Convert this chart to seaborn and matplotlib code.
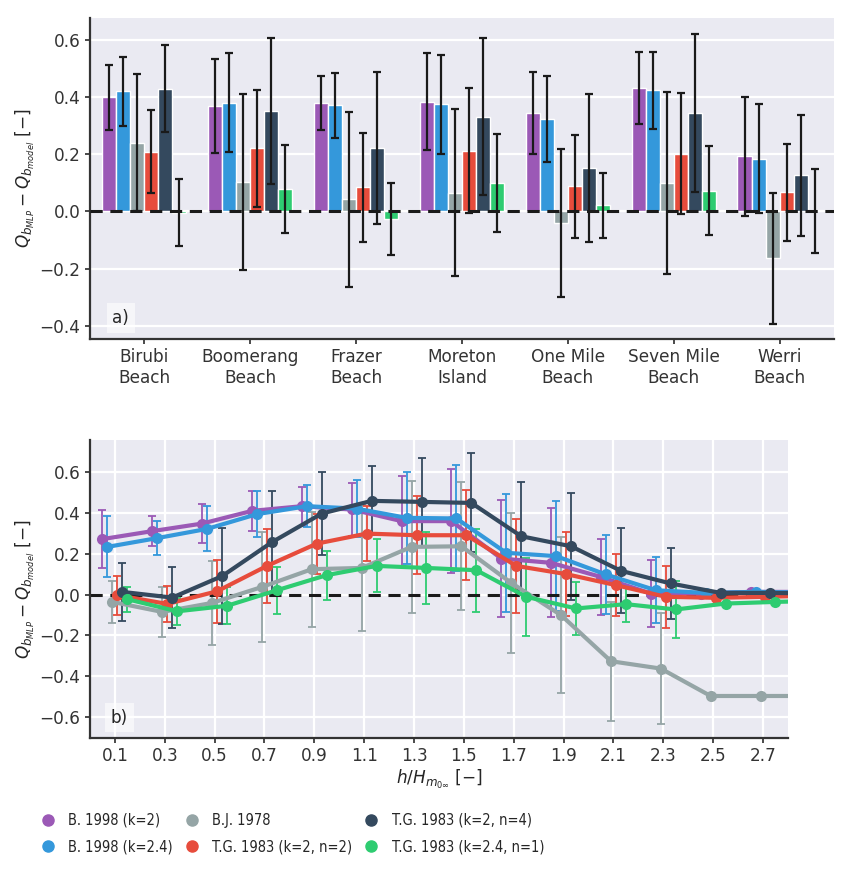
import numpy as np
import pandas as pd
import matplotlib
matplotlib.use('Agg')
import matplotlib.pyplot as plt
from matplotlib.lines import Line2D
import seaborn as sns

# models / colours (flat ui palette)
models = ['B. 1998 (k=2)', 'B. 1998 (k=2.4)', 'B.J. 1978',
          'T.G. 1983 (k=2, n=2)', 'T.G. 1983 (k=2, n=4)', 'T.G. 1983 (k=2.4, n=1)']
colors = ['#9b59b6', '#3498db', '#95a5a6', '#e74c3c', '#34495e', '#2ecc71']

# panel a) mean bias and spread per beach
beaches = ['Birubi\nBeach', 'Boomerang\nBeach', 'Frazer\nBeach', 'Moreton\nIsland',
           'One Mile\nBeach', 'Seven Mile\nBeach', 'Werri\nBeach']
beach_b98_k2 = [0.398, 0.367, 0.377, 0.383, 0.344, 0.431, 0.192]
beach_b98_k24 = [0.419, 0.380, 0.370, 0.374, 0.323, 0.423, 0.184]
beach_bj78 = [0.240, 0.103, 0.043, 0.066, -0.040, 0.098, -0.164]
beach_tg_k2_n2 = [0.208, 0.221, 0.085, 0.212, 0.088, 0.202, 0.067]
beach_tg_k2_n4 = [0.428, 0.351, 0.220, 0.331, 0.153, 0.344, 0.126]
beach_tg_k24_n1 = [-0.005, 0.078, -0.027, 0.099, 0.021, 0.073, 0.002]

beach_err_b98_k2 = [0.113, 0.164, 0.094, 0.169, 0.143, 0.125, 0.207]
beach_err_b98_k24 = [0.121, 0.172, 0.113, 0.172, 0.150, 0.134, 0.190]
beach_err_bj78 = [0.240, 0.307, 0.305, 0.290, 0.257, 0.318, 0.229]
beach_err_tg_k2_n2 = [0.145, 0.204, 0.190, 0.218, 0.180, 0.210, 0.169]
beach_err_tg_k2_n4 = [0.152, 0.254, 0.265, 0.275, 0.258, 0.275, 0.210]
beach_err_tg_k24_n1 = [0.117, 0.154, 0.125, 0.171, 0.114, 0.155, 0.147]

# panel b) bias binned by relative depth
depth_bins = [0.1, 0.3, 0.5, 0.7, 0.9, 1.1, 1.3, 1.5, 1.7, 1.9, 2.1, 2.3, 2.5, 2.7, 2.9]
depth_b98_k2 = [0.271, 0.310, 0.347, 0.409, 0.432, 0.416, 0.359, 0.359, 0.176, 0.155, 0.086, 0.005, 0.005, 0.013, 0.013]
depth_b98_k24 = [0.233, 0.276, 0.321, 0.393, 0.432, 0.420, 0.375, 0.372, 0.204, 0.188, 0.098, 0.021, 0.008, 0.013, 0.010]
depth_bj78 = [-0.036, -0.085, -0.041, 0.037, 0.124, 0.130, 0.233, 0.236, 0.057, -0.101, -0.326, -0.362, -0.496, -0.496, -0.496]
depth_tg_k2_n2 = [-0.003, -0.046, 0.016, 0.140, 0.249, 0.298, 0.290, 0.290, 0.140, 0.100, 0.046, -0.011, -0.016, -0.011, -0.005]
depth_tg_k2_n4 = [0.013, -0.015, 0.090, 0.256, 0.396, 0.458, 0.453, 0.448, 0.285, 0.236, 0.116, 0.054, 0.008, 0.008, 0.005]
depth_tg_k24_n1 = [-0.023, -0.082, -0.055, 0.021, 0.095, 0.140, 0.130, 0.119, -0.011, -0.068, -0.047, -0.073, -0.044, -0.036, -0.030]

depth_err_b98_k2 = [0.143, 0.074, 0.097, 0.098, 0.095, 0.128, 0.222, 0.255, 0.287, 0.267, 0.188, 0.162, 0, 0, 0]
depth_err_b98_k24 = [0.149, 0.084, 0.110, 0.112, 0.104, 0.141, 0.225, 0.259, 0.288, 0.269, 0.194, 0.162, 0, 0, 0]
depth_err_bj78 = [0.102, 0.124, 0.204, 0.271, 0.281, 0.309, 0.322, 0.312, 0.343, 0.382, 0.290, 0.272, 0, 0, 0]
depth_err_tg_k2_n2 = [0.096, 0.088, 0.155, 0.179, 0.147, 0.135, 0.191, 0.220, 0.229, 0.204, 0.153, 0.153, 0, 0, 0]
depth_err_tg_k2_n4 = [0.143, 0.148, 0.236, 0.251, 0.202, 0.169, 0.216, 0.242, 0.264, 0.261, 0.208, 0.175, 0, 0, 0]
depth_err_tg_k24_n1 = [0.061, 0.065, 0.091, 0.115, 0.120, 0.130, 0.177, 0.202, 0.192, 0.131, 0.088, 0.140, 0, 0, 0]

beach_means = [beach_b98_k2, beach_b98_k24, beach_bj78, beach_tg_k2_n2, beach_tg_k2_n4, beach_tg_k24_n1]
beach_errs = [beach_err_b98_k2, beach_err_b98_k24, beach_err_bj78, beach_err_tg_k2_n2, beach_err_tg_k2_n4, beach_err_tg_k24_n1]
depth_means = [depth_b98_k2, depth_b98_k24, depth_bj78, depth_tg_k2_n2, depth_tg_k2_n4, depth_tg_k24_n1]
depth_errs = [depth_err_b98_k2, depth_err_b98_k24, depth_err_bj78, depth_err_tg_k2_n2, depth_err_tg_k2_n4, depth_err_tg_k24_n1]

# long tables for seaborn
df_a = pd.DataFrame({
    'beach': np.tile(beaches, len(models)),
    'model': np.repeat(models, len(beaches)),
    'bias': np.concatenate(beach_means),
})
dodge_step = 0.02
offsets = (np.arange(len(models)) - (len(models) - 1) / 2) * dodge_step
df_b = pd.DataFrame({
    'depth': np.concatenate([np.array(depth_bins) + o for o in offsets]),
    'model': np.repeat(models, len(depth_bins)),
    'bias': np.concatenate(depth_means),
})

sns.set_theme(style='darkgrid', rc={
    'axes.edgecolor': '.2', 'axes.linewidth': 1.6,
    'xtick.bottom': True, 'ytick.left': True,
    'xtick.major.size': 3.3, 'ytick.major.size': 3.3,
    'xtick.color': '.2', 'ytick.color': '.2',
    'grid.linewidth': 1.6,
})
plt.rcParams['font.family'] = ['DejaVu Sans']
fs = 12.2

fig = plt.figure(figsize=(8.52, 8.75), dpi=100)
ax1 = fig.add_axes([0.1056, 0.6126, 0.8732, 0.3668])
ax2 = fig.add_axes([0.1056, 0.1569, 0.8192, 0.3401])

# ---- panel a
sns.barplot(data=df_a, x='beach', y='bias', hue='model', hue_order=models,
            palette=colors, saturation=1, errorbar=None, width=0.8, ax=ax1, legend=False)
ax1.axhline(0, color='k', ls='--', lw=2.2, dashes=(4, 2.5), zorder=3)
for cont, errs in zip(ax1.containers, beach_errs):
    xs = [b.get_x() + b.get_width() / 2 for b in cont]
    ys = [b.get_height() + b.get_y() for b in cont]
    ax1.errorbar(xs, ys, yerr=errs, fmt='none', ecolor='k', elinewidth=1.6,
                 capsize=3, capthick=1.6, zorder=4)
ax1.set_ylim(-0.445, 0.675)
ax1.set_xlim(-0.51, 6.51)
ax1.set_yticks([-0.4, -0.2, 0.0, 0.2, 0.4, 0.6])
ax1.set_xlabel('')
ax1.set_ylabel(r'$Q_{b_{MLP}} - Q_{b_{model}}$ [$-$]', fontsize=fs, labelpad=2)
ax1.tick_params(labelsize=fs)
ax1.text(0.03, 0.05, 'a)', transform=ax1.transAxes, fontsize=fs,
         bbox=dict(facecolor='white', edgecolor='none', alpha=0.6, pad=4))

# ---- panel b
for (name, col), errs in zip(zip(models, colors), depth_errs):
    sub = df_b[df_b['model'] == name]
    ax2.errorbar(sub['depth'], sub['bias'], yerr=errs, fmt='none', ecolor=col,
                 elinewidth=1.3, capsize=3, capthick=1.3, zorder=2)
ax2.axhline(0, color='k', ls='--', lw=2.2, dashes=(4, 2.5), zorder=2.5)
sns.lineplot(data=df_b, x='depth', y='bias', hue='model', hue_order=models,
             palette=colors, marker='o', markersize=8, markeredgewidth=0,
             linewidth=3, legend=False, ax=ax2, zorder=3)
ax2.set_xlim(0, 2.8)
ax2.set_ylim(-0.70, 0.755)
ax2.set_xticks(depth_bins[:-1])
ax2.set_xticklabels([f'{v:.1f}' for v in depth_bins[:-1]])
ax2.set_yticks([-0.6, -0.4, -0.2, 0.0, 0.2, 0.4, 0.6])
ax2.set_xlabel(r'$h/H_{m_{0\infty}}$ [$-$]', fontsize=fs, labelpad=2)
ax2.set_ylabel(r'$Q_{b_{MLP}} - Q_{b_{model}}$ [$-$]', fontsize=fs, labelpad=2)
ax2.tick_params(labelsize=fs)
ax2.text(0.03, 0.05, 'b)', transform=ax2.transAxes, fontsize=fs,
         bbox=dict(facecolor='white', edgecolor='none', alpha=0.6, pad=4))

for ax in (ax1, ax2):
    sns.despine(ax=ax)

handles = [Line2D([], [], marker='o', ls='none', color=c, markersize=8) for c in colors]
fig.legend(handles, models, loc='upper left', bbox_to_anchor=(0.034, 0.086),
           ncol=3, frameon=False, handlelength=0.8, handletextpad=1.0,
           labelspacing=0.8, columnspacing=0.9,
           prop={'family': 'DejaVu Sans', 'stretch': 'condensed', 'size': 10.5})

fig.savefig('out.png', dpi=100)
